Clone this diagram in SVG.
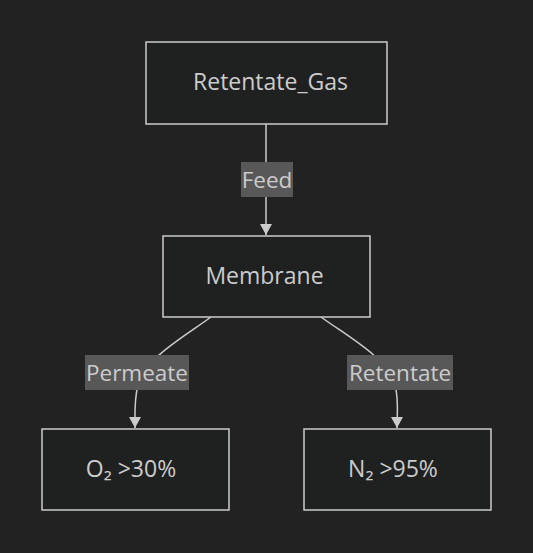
<svg xmlns="http://www.w3.org/2000/svg" width="533" height="553" viewBox="0 0 533 553">
<defs>
<style>
.node rect{fill:#1f2020;stroke:#cccccc;stroke-width:1.5}
.node text{fill:#cccccc;font-family:"Open Sans","DejaVu Sans",sans-serif;font-size:23px;text-anchor:middle;dominant-baseline:central}
.edge{fill:none;stroke:#cccccc;stroke-width:1.5}
.lbl rect{fill:#585858}
.lbl text{fill:#cccccc;font-family:"Open Sans","DejaVu Sans",sans-serif;font-size:22.5px;text-anchor:middle;dominant-baseline:central}
</style>
<marker id="arr" viewBox="0 0 11 12" refX="11" refY="6" markerWidth="11" markerHeight="12" markerUnits="userSpaceOnUse" orient="auto">
<path d="M0,0 L11,6 L0,12 Z" fill="#cccccc"/>
</marker>
</defs>
<rect width="533" height="553" fill="#222222"/>
<g id="connectors">
<path class="edge" d="M266,124 L266,235" marker-end="url(#arr)"/>
<path class="edge" d="M211,317 C185,336 145,358 138,385 C134,400 135,415 135,428" marker-end="url(#arr)"/>
<path class="edge" d="M321,317 C347,336 388,358 395,385 C399,400 397,415 397,428" marker-end="url(#arr)"/>
<g class="lbl"><rect x="241" y="162" width="52" height="35"/><text x="267" y="179.5">Feed</text></g>
<g class="lbl"><rect x="85" y="355" width="104" height="35"/><text x="137" y="372.5">Permeate</text></g>
<g class="lbl"><rect x="347" y="355" width="106" height="35"/><text x="400" y="372.5">Retentate</text></g>
</g>
<g id="Retentate_Gas" class="node"><rect x="146" y="42" width="241" height="82"/><text x="270.5" y="81">Retentate_Gas</text></g>
<g id="Membrane" class="node"><rect x="163" y="236" width="207" height="81"/><text x="264.5" y="275">Membrane</text></g>
<g id="O2" class="node"><rect x="42" y="429" width="187" height="81"/><text x="131" y="468">O₂ &gt;30%</text></g>
<g id="N2" class="node"><rect x="304" y="429" width="187" height="81"/><text x="393" y="468">N₂ &gt;95%</text></g>
</svg>
